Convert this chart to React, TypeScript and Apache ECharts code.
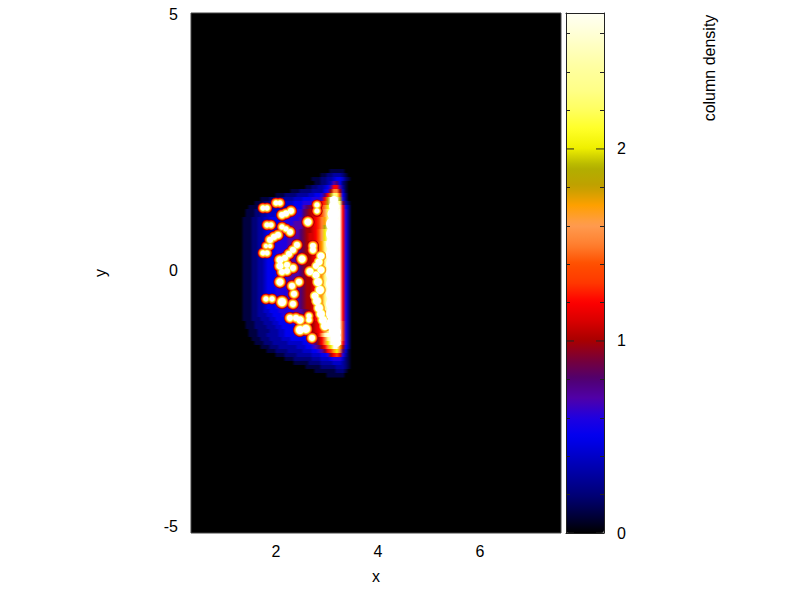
import React, { useEffect, useRef } from "react";
import * as echarts from "echarts";

const xLabels = [2, 4, 6];
const yLabels = [-5, 0, 5];
const barMajor = [0, 1, 2];
const barMinor = [0.2, 0.4, 0.6, 0.8, 1.2, 1.4, 1.6, 1.8, 2.2, 2.4, 2.6];
const xRange = [0.333, 7.59];
const yRange = [-5.12, 5.02];
const barMax = 2.708;

// colour scale, one entry per 0.1 of column density from 0 to 2.7
const palette = [
  "#000000", "#000040", "#000078", "#0000a0", "#0000c8", "#0000f0", "#2000e0", "#5000a8", "#500070", "#780038",
  "#a80000", "#d80000", "#ff0000", "#ff3800", "#ff5000", "#ff8030", "#ff9c50", "#ffa000", "#c0a000", "#b0b000",
  "#f0f000", "#ffff28", "#ffff60", "#ffff88", "#ffff9c", "#ffffb8", "#ffffd8", "#fffff4",
];

// column density in tenths (base 36), rows from the top, columns from the left
const densityX0 = 1.137;
const densityDX = 0.0588;
const densityY0 = 2.018;
const densityDY = 0.078;
const midLeft = "000011122334555666677778";
const midRow = midLeft + "9aabcehnrrrrrc620";
const lowMid = midLeft + "9aabcfhnrrrrrc620";
const densityRows = [
  "00000000000000000000000000000000000000000",
  "000000000000000000000000000000000" + "11111000",
  "000000000000000000000000000000" + "11223332100",
  "000000000000000000000000000" + "11122334554210",
  "0000000000000000000000000000" + "112234" + "7852100",
  "0000000000000000000000000" + "11223345" + "7cc73100",
  "00000000000000000000" + "11122223333" + "56affa4100",
  "000000000000000" + "111222233" + "3344556" + "8cinme5200",
  "0000000000" + "11122223333444" + "5556667cirrrj6200",
  "00000000" + "1112233344444555" + "6667abcdirrrn9310",
  "000000" + "111223334444455555" + "789abcdfkrrrqc520",
  "00000" + "1112233344455555566" + "89abbcegmrrrrc620",
  "00000" + "1112233444555556666" + "89abbcegmrrrrc620",
  "0000" + "11122334455555666667" + "89abcdfhnrrrrc620",
  "0000" + "11122334555566666777" + "9aabcdfhorrrrc620",
  "0000" + "11122334555666667777" + "9aabcdfjprrrrc620",
  "0000" + "11122334555666677778" + "9aabcegkqrrrrc620",
  "0000" + "11122334555666677778" + "9abbcegkqrrrrc620",
  "0000" + "11122334555666677778" + "9abbcegkrrrrrc620",
  midRow, midRow, midRow, midRow, midRow, midRow, midRow, midRow, midRow, midRow, midRow, midRow, midRow,
  lowMid, lowMid, lowMid, lowMid,
  "0000" + "11122334455566666777" + "89abcehnrrrrrc620",
  "0000" + "11122333445556666667" + "89abcdgmrrrrrc620",
  "0000" + "11122233344555566666" + "89abcdgmrrrrrc620",
  "00000" + "1112223334455556666" + "789abcfkrrrrrd620",
  "00000" + "1112222333445555566" + "789abcehqrrrrd620",
  "000000" + "111222233344555556" + "778abcdgnrrrrd620",
  "000000" + "111222333344555555" + "6678acgprrrrrd620",
  "0000000" + "11122233334445555" + "56678acfnrrrrd620",
  "00000000" + "1112223333344444" + "55678acfkrrrpc620",
  "0000000000" + "11122233333344" + "455678acfkrrha520",
  "000000000000" + "111222233333" + "44455679cdhkf8410",
  "000000000000000" + "111222233" + "333444556acdb6310",
  "000000000000000000" + "111222" + "22233344456664210",
  "000000000000000000000" + "111" + "11222233334443210",
  "000000000000000000000000" + "01111122222333210",
  "000000000000000000000000" + "00001111111222100",
  "000000000000000000000000" + "00000000111111000",
];

// bright knots: x, y, core diameter
const knots: number[][] = [
  [1.745, 1.218, 5], [1.824, 1.218, 5], [2, 1.316, 5], [2.078, 1.316, 5],
  [2.118, 1.082, 6], [2.196, 1.111, 6], [2.294, 1.16, 6], [1.824, 0.887, 5], [1.902, 0.887, 5],
  [2.627, 0.945, 7], [2.804, 1.277, 5], [2.804, 1.16, 5],
  [2.118, 0.848, 5], [2.196, 0.809, 5], [2.275, 0.75, 6],
  [1.882, 0.595, 6], [1.961, 0.653, 6], [2.04, 0.692, 6],
  [1.804, 0.478, 4], [1.882, 0.478, 4], [1.745, 0.341, 5], [1.824, 0.341, 5],
  [2.725, 0.478, 6], [2.725, 0.4, 6],
  [2.412, 0.497, 6], [2.333, 0.4, 6], [2.255, 0.322, 6], [2.176, 0.244, 6],
  [2.51, 0.224, 7], [2.078, 0.205, 7], [2.078, 0.088, 7], [2.216, 0.107, 6],
  [2.118, -0.029, 6], [2.216, -0.01, 6], [2.333, 0.049, 6],
  [2.667, -0.02, 7], [2.078, -0.224, 7], [2.451, -0.224, 6], [2.314, -0.302, 6], [2.353, -0.458, 6],
  [1.804, -0.556, 5], [1.922, -0.556, 5], [2.118, -0.614, 8], [2.333, -0.653, 6],
  [2.275, -0.926, 6], [2.392, -0.926, 6], [2.471, -0.965, 7], [2.647, -0.887, 5], [2.647, -0.965, 5],
  [2.471, -1.16, 8], [2.588, -1.14, 8], [2.706, -1.316, 6],
];
// knots that merge into the left side of the front
const frontKnots: number[][] = [
  [2.882, 0.283, 7], [2.843, 0.166, 7], [2.784, 0.088, 6], [2.882, 0.01, 7], [2.784, -0.088, 7],
  [2.824, -0.224, 8], [2.863, -0.38, 8], [2.765, -0.497, 7], [2.804, -0.595, 8], [2.843, -0.731, 8],
  [2.882, -0.848, 8], [2.922, -0.965, 8], [2.961, -1.082, 8],
];
// white core of the shock front: x, y, diameter
const frontCore: number[][] = [
  [3.137, 1.374, 8], [3.137, 1.257, 10], [3.127, 1.101, 12], [3.118, 0.906, 14], [3.118, 0.712, 14], [3.118, 0.517, 14],
  [3.118, 0.322, 14], [3.118, 0.127, 14], [3.118, -0.068, 14], [3.118, -0.263, 14], [3.118, -0.458, 14], [3.118, -0.653, 14],
  [3.118, -0.848, 14], [3.118, -1.043, 14], [3.157, -1.199, 12], [3.176, -1.316, 10], [3.196, -1.413, 8],
];
const knotLayers = [
  { grow: 6, color: "#8a0000", front: false },
  { grow: 5, color: "#ff1000", front: false },
  { grow: 3.5, color: "#ff9020", front: true },
  { grow: 1.5, color: "#ffff40", front: true },
  { grow: 0, color: "#ffffff", front: true },
];

const font = "'Liberation Sans', Arial, sans-serif";
const fontSize = 16;
const textColor = "#000";
const barInk = "#222";
const majorShare = 8 / 38;

export default function App() {
  const ref = useRef<HTMLDivElement>(null);
  useEffect(() => {
    const chart = echarts.init(ref.current!, undefined, { renderer: "svg" });
    const rows: number[][] = [];
    densityRows.forEach((row, r) => {
      if (/[^0]/.test(row)) rows.push([densityX0, densityY0 - r * densityDY, r]);
    });
    const barLine = { show: true, onZero: false, lineStyle: { color: barInk, width: 1 } };
    const textStyle = { fontSize, color: textColor, fontFamily: font };
    chart.setOption({
      animation: false,
      backgroundColor: "#fff",
      textStyle: { fontFamily: font },
      grid: [
        { left: 191, top: 13, width: 370, height: 520, show: true, backgroundColor: "#000", borderColor: "#444", borderWidth: 1 },
        { left: 566, top: 13, width: 38, height: 520 },
      ],
      xAxis: [
        {
          type: "value", gridIndex: 0, min: xRange[0], max: xRange[1], name: "x", nameLocation: "middle", nameGap: 35,
          nameTextStyle: textStyle,
          axisLine: { show: false }, axisTick: { show: false }, splitLine: { show: false },
          axisLabel: { customValues: xLabels, margin: 10, ...textStyle },
        },
        { type: "value", gridIndex: 1, min: 0, max: 1, position: "bottom", z: 10, axisLine: barLine, axisTick: { show: false }, axisLabel: { show: false }, splitLine: { show: false } },
        { type: "value", gridIndex: 1, min: 0, max: 1, position: "top", z: 10, axisLine: barLine, axisTick: { show: false }, axisLabel: { show: false }, splitLine: { show: false } },
      ],
      yAxis: [
        {
          type: "value", gridIndex: 0, min: yRange[0], max: yRange[1], name: "y", nameLocation: "middle", nameGap: 83, nameRotate: 90,
          nameTextStyle: textStyle,
          axisLine: { show: false }, axisTick: { show: false }, splitLine: { show: false },
          axisLabel: { customValues: yLabels, margin: 13, ...textStyle },
        },
        { type: "value", gridIndex: 1, min: 0, max: barMax, position: "left", z: 10, axisLine: barLine, axisLabel: { show: false }, splitLine: { show: false }, axisTick: { show: true, inside: true, length: 4, customValues: barMinor, lineStyle: { color: barInk } } },
        { type: "value", gridIndex: 1, min: 0, max: barMax, position: "right", z: 10, axisLine: barLine, splitLine: { show: false }, axisTick: { show: true, inside: true, length: 4, customValues: barMinor, lineStyle: { color: barInk } }, axisLabel: { customValues: barMajor, margin: 13, ...textStyle } },
      ],
      visualMap: {
        type: "continuous", seriesIndex: 0, dimension: 2, min: 0, max: 2.7, calculable: false, hoverLink: false, realtime: false,
        left: 566, top: 13, itemWidth: 38, itemHeight: 520, padding: 0, text: null, showLabel: false,
        inRange: { color: palette },
      },
      series: [
        {
          type: "custom", xAxisIndex: 0, yAxisIndex: 0, data: rows, silent: true, clip: true,
          encode: { x: 0, y: 1 },
          renderItem: (_p: any, api: any) => {
            const x = api.value(0), y = api.value(1);
            const row = densityRows[api.value(2)];
            const a = api.coord([x, y + densityDY / 2]);
            const b = api.coord([x + densityDX * (row.length - 1), y - densityDY / 2]);
            const stops = row.split("").map((ch, c) => ({ offset: c / (row.length - 1), color: palette[parseInt(ch, 36)] }));
            return {
              type: "rect",
              shape: { x: a[0], y: a[1], width: b[0] - a[0], height: b[1] - a[1] + 0.6 },
              style: { fill: new echarts.graphic.LinearGradient(0, 0, 1, 0, stops) },
            };
          },
        },
        ...knotLayers.map((layer) => ({
          type: "scatter", xAxisIndex: 0, yAxisIndex: 0, data: layer.front ? knots.concat(frontKnots) : knots, silent: true,
          symbol: "circle",
          symbolSize: (v: number[]) => v[2] + layer.grow,
          itemStyle: { color: layer.color, opacity: 1 },
          encode: { x: 0, y: 1 },
        })),
        {
          type: "scatter", xAxisIndex: 0, yAxisIndex: 0, data: frontCore, silent: true,
          symbol: "circle",
          symbolSize: (v: number[]) => v[2],
          itemStyle: { color: "#ffffff", opacity: 1 },
          encode: { x: 0, y: 1 },
        },
        {
          type: "custom", xAxisIndex: 1, yAxisIndex: 1, data: barMajor.map((v) => [v]), silent: true, clip: false, z: 10,
          encode: { y: 0 },
          renderItem: (_p: any, api: any) => {
            const v = api.value(0);
            const a = api.coord([0, v]), b = api.coord([majorShare, v]);
            const c = api.coord([1 - majorShare, v]), d = api.coord([1, v]);
            const lineStyle = { stroke: barInk, lineWidth: 1 };
            return {
              type: "group",
              children: [
                { type: "line", shape: { x1: a[0], y1: a[1], x2: b[0], y2: b[1] }, style: lineStyle },
                { type: "line", shape: { x1: c[0], y1: c[1], x2: d[0], y2: d[1] }, style: lineStyle },
              ],
            };
          },
        },
      ],
      graphic: [
        {
          type: "text", x: 709, y: 68, rotation: Math.PI / 2,
          style: { text: "column density", fontSize, fontFamily: font, fill: textColor, align: "center", verticalAlign: "middle" },
        },
      ],
    });
    return () => chart.dispose();
  }, []);
  return <div ref={ref} style={{ position: "fixed", left: 0, top: 0, width: 800, height: 600 }} />;
}
